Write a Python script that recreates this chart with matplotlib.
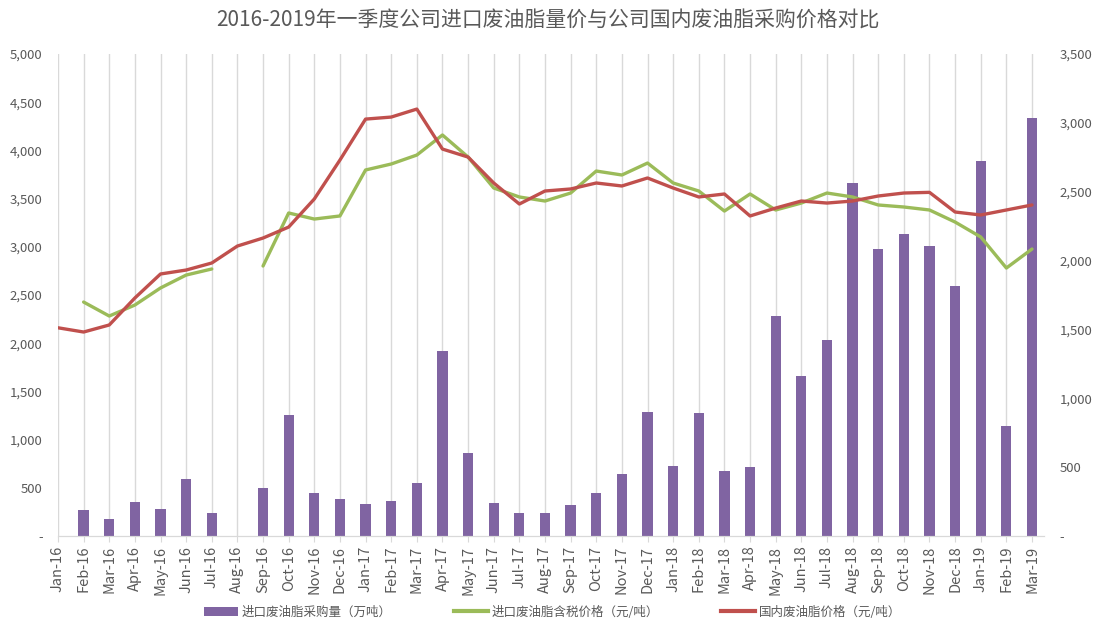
import numpy as np
import matplotlib
matplotlib.use("Agg")
import matplotlib.pyplot as plt
from matplotlib.patches import Patch
from matplotlib.lines import Line2D

plt.rcParams['font.family'] = ['Noto Sans CJK SC', 'DejaVu Sans']

# 月份
months = ['Jan-16', 'Feb-16', 'Mar-16', 'Apr-16', 'May-16', 'Jun-16', 'Jul-16', 'Aug-16',
          'Sep-16', 'Oct-16', 'Nov-16', 'Dec-16', 'Jan-17', 'Feb-17', 'Mar-17', 'Apr-17',
          'May-17', 'Jun-17', 'Jul-17', 'Aug-17', 'Sep-17', 'Oct-17', 'Nov-17', 'Dec-17',
          'Jan-18', 'Feb-18', 'Mar-18', 'Apr-18', 'May-18', 'Jun-18', 'Jul-18', 'Aug-18',
          'Sep-18', 'Oct-18', 'Nov-18', 'Dec-18', 'Jan-19', 'Feb-19', 'Mar-19']

# 进口废油脂采购量（右轴）
volume = [0, 186, 126, 247, 194, 412, 165, 0,
          346, 879, 310, 266, 232, 254, 385, 1345,
          605, 242, 167, 167, 228, 315, 450, 903,
          508, 895, 472, 503, 1597, 1159, 1423, 2566,
          2082, 2193, 2108, 1818, 2723, 797, 3037]

# 进口废油脂含税价格（左轴），Jan-16 和 Aug-16 缺失
import_price = [np.nan, 2427, 2282, 2396, 2573, 2707, 2770, np.nan,
                2801, 3351, 3288, 3320, 3797, 3859, 3952, 4160,
                3931, 3610, 3517, 3475, 3558, 3786, 3745, 3869,
                3662, 3579, 3371, 3548, 3382, 3454, 3558, 3517,
                3434, 3413, 3382, 3257, 3102, 2780, 2977]

# 国内废油脂价格（左轴）
domestic_price = [2160, 2116, 2189, 2469, 2718, 2759, 2832, 3008,
                  3091, 3205, 3496, 3900, 4325, 4346, 4429, 4014,
                  3931, 3662, 3444, 3579, 3600, 3662, 3631, 3714,
                  3610, 3517, 3548, 3320, 3402, 3475, 3454, 3475,
                  3527, 3558, 3565, 3361, 3330, 3382, 3434]

purple = '#8064A2'
green = '#9BBB59'
red = '#C0504D'
gray_txt = '#595959'
grid_c = '#D9D9D9'

x = np.arange(len(months))

fig = plt.figure(figsize=(10.96, 6.21), dpi=100)
ax = fig.add_axes([0.0529, 0.1369, 0.8997, 0.7761])
axr = ax.twinx()

# 柱状图放在右轴，画在折线下面
ax.set_zorder(axr.get_zorder() + 1)
ax.patch.set_visible(False)

for xi in x:
    axr.axvline(xi, color=grid_c, lw=1, zorder=0)
axr.bar(x, volume, width=0.4, color=purple, zorder=2)

ax.plot(x, import_price, color=green, lw=2.4, solid_capstyle='round')
ax.plot(x, domestic_price, color=red, lw=2.4, solid_capstyle='round')

ax.set_xlim(0, 38.47)
ax.set_ylim(0, 5000)
axr.set_ylim(0, 3500)

def fmt(v):
    return '-' if v == 0 else f'{int(v):,}'

lt = np.arange(0, 5001, 500)
ax.set_yticks(lt)
ax.set_yticklabels([fmt(v) for v in lt])
rt = np.arange(0, 3501, 500)
axr.set_yticks(rt)
axr.set_yticklabels([fmt(v) for v in rt])

ax.set_xticks(x)
ax.set_xticklabels(months, rotation=90, fontsize=10.5, color=gray_txt)

ax.tick_params(axis='y', length=0, labelsize=9.5, labelcolor=gray_txt, pad=11)
axr.tick_params(axis='y', length=0, labelsize=9.5, labelcolor=gray_txt, pad=11)
ax.tick_params(axis='x', length=4, color=grid_c, pad=3)

for a in (ax, axr):
    for s in ('top', 'left', 'right'):
        a.spines[s].set_visible(False)
    a.spines['bottom'].set_color(grid_c)

fig.suptitle('2016-2019年一季度公司进口废油脂量价与公司国内废油脂采购价格对比',
             fontsize=15, color=gray_txt, y=0.985)

handles = [Patch(facecolor=purple),
           Line2D([0], [0], color=green, lw=3),
           Line2D([0], [0], color=red, lw=3)]
labels = ['进口废油脂采购量（万吨）', '进口废油脂含税价格（元/吨）', '国内废油脂价格（元/吨）']
fig.legend(handles, labels, loc='center', bbox_to_anchor=(0.504, 0.0145), ncol=3,
           frameon=False, fontsize=9, labelcolor=gray_txt, handlelength=2.7,
           handleheight=0.7, columnspacing=5.0, handletextpad=0.3)

fig.savefig('out.png', dpi=100)
